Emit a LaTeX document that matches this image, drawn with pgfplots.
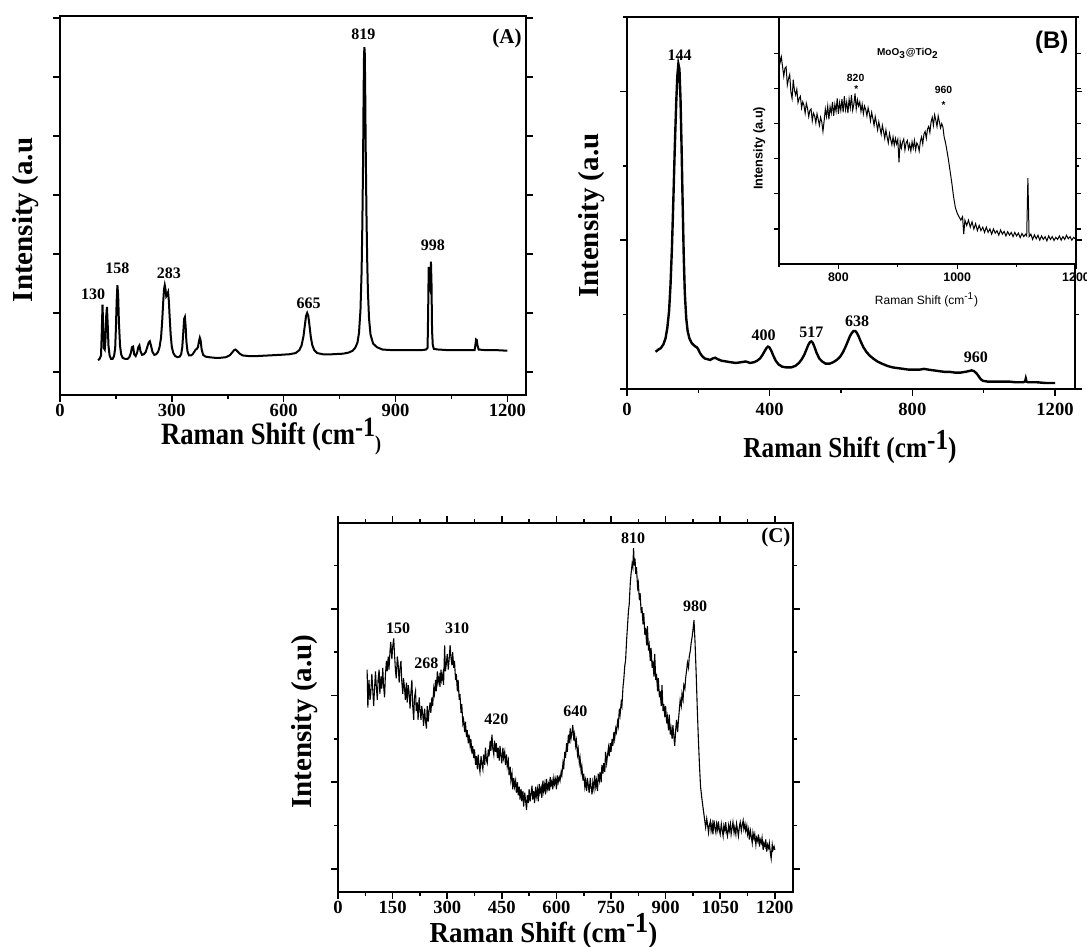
\documentclass[border=0pt]{standalone}
\usepackage{fontspec}
\setmainfont{Liberation Serif}
\newfontfamily\arialfont{Liberation Sans}
\usepackage{pgfplots}
\pgfplotsset{compat=1.18}

\pgfplotsset{
  raman/.style={
    scale only axis, anchor=south west, clip=false,
    axis line style={line width=1pt},
    tick align=outside, major tick length=3.5pt, minor tick length=2pt,
    tick style={black, line width=0.8pt},
    ticklabel style={font=\bfseries\fontsize{9.3}{10}\selectfont, inner sep=1pt},
    /pgf/number format/assume math mode=true,
    /pgf/number format/1000 sep={},
    yticklabels={},
  },
}
\tikzset{
  peak/.style={font=\bfseries\fontsize{8}{9}\selectfont, anchor=base, inner sep=0pt},
  axlab/.style={font=\bfseries\fontsize{14.5}{15}\selectfont, inner sep=0pt},
}

\begin{document}
\begin{tikzpicture}
\path[use as bounding box] (0,0) rectangle (543.5pt,473.5pt);

% ---------------- (A)
\begin{axis}[raman, at={(30pt,276pt)}, width=233pt, height=189.5pt,
  xmin=0, xmax=1250, ymin=-0.39, ymax=6.03,
  xtick={0,300,...,1200}, minor xtick={150,450,750,1050},
  ytick={0,...,6}, xtick pos=left, ytick pos=both]
\addplot[black, line width=1pt] coordinates {
(102,0.20) (106,0.22) (110,0.28) (112,0.65) (114,1.14) (116,0.75) (118,0.40)
(120,0.38) (122,0.55) (124,0.95) (126,1.10) (128,0.80) (130,0.45) (133,0.28)
(137,0.22) (141,0.22) (145,0.27) (148,0.40) (150,0.75) (152,1.20) (154,1.47)
(156,1.30) (158,0.85) (161,0.45) (164,0.30) (168,0.24) (175,0.22) (181,0.22)
(186,0.25) (190,0.32) (193,0.42) (196,0.43) (199,0.30) (203,0.27) (207,0.33)
(210,0.42) (213,0.45) (216,0.35) (220,0.29) (225,0.30) (230,0.34) (234,0.42)
(238,0.50) (241,0.52) (244,0.45) (248,0.34) (253,0.29) (258,0.30) (263,0.34)
(267,0.42) (271,0.58) (274,0.85) (277,1.20) (279,1.40) (281,1.47) (283,1.40)
(285,1.28) (287,1.30) (290,1.35) (292,1.20) (294,0.95) (297,0.62) (300,0.42)
(304,0.32) (309,0.27) (315,0.25) (321,0.26) (325,0.30) (328,0.42) (331,0.70)
(333,0.90) (335,0.93) (337,0.78) (339,0.52) (342,0.35) (346,0.28) (351,0.28)
(356,0.30) (361,0.35) (364,0.38) (367,0.39) (370,0.42) (373,0.53) (375,0.58)
(377,0.54) (380,0.38) (384,0.29) (390,0.26) (400,0.25) (415,0.24) (430,0.24)
(445,0.25) (455,0.28) (462,0.33) (467,0.37) (471,0.38) (476,0.35) (482,0.31)
(490,0.28) (505,0.27) (530,0.27) (560,0.28) (590,0.29) (615,0.30) (632,0.32)
(642,0.37) (648,0.45) (653,0.60) (657,0.80) (660,0.95) (663,1.00) (666,0.95)
(669,0.80) (673,0.58) (677,0.45) (682,0.37) (690,0.32) (705,0.30) (730,0.30)
(760,0.31) (775,0.33) (785,0.36) (792,0.41) (798,0.50) (802,0.66) (806,1.05)
(809,1.70) (811,2.50) (813,3.60) (814.5,4.80) (815.5,5.35) (816.5,5.50)
(817.5,5.40) (818.5,4.90) (820,3.80) (822,2.70) (824,1.90) (826,1.35)
(829,0.90) (833,0.63) (840,0.48) (850,0.42) (865,0.38) (890,0.37) (920,0.37)
(950,0.37) (970,0.37) (982,0.38) (986,0.41) (987.5,1.00) (989,1.78) (990.5,1.50)
(992,1.45) (993.5,1.60) (995,1.87) (996.5,1.50) (998,0.70) (1000,0.45)
(1003,0.39) (1015,0.38) (1040,0.37) (1070,0.37) (1100,0.37) (1112,0.37)
(1114,0.44) (1116,0.55) (1118,0.54) (1120,0.45) (1123,0.38) (1140,0.37)
(1170,0.37) (1200,0.36)
};
\node[peak] at (axis cs:88.6,1.22) {130};
\node[peak] at (axis cs:154,1.66) {158};
\node[peak] at (axis cs:292,1.59) {283};
\node[peak] at (axis cs:667,1.08) {665};
\node[peak] at (axis cs:814,5.63) {819};
\node[peak] at (axis cs:1000,2.05) {998};
\node[font=\bfseries\fontsize{10.5}{11}\selectfont, anchor=base east, inner sep=0pt]
  at (axis cs:1239,5.56) {(A)};
\end{axis}

% ---------------- (B)
\begin{axis}[raman, at={(313.5pt,279pt)}, width=224pt, height=186pt,
  xmin=0, xmax=1256, ymin=0, ymax=5,
  xtick={0,400,800,1200}, minor xtick={200,600,1000},
  ytick={0,2,4}, minor ytick={1,3,5}, xtick pos=left, ytick pos=both,
  xticklabel style={yshift=-2.5pt}]
\addplot[black, line width=1.2pt] coordinates {
(80,0.50) (88,0.53) (95,0.55) (102,0.60) (108,0.68) (113,0.82) (118,1.05)
(122,1.40) (126,1.90) (130,2.55) (134,3.25) (138,3.85) (141,4.20) (144,4.37)
(147,4.30) (150,3.90) (153,3.25) (156,2.50) (159,1.80) (162,1.30) (166,0.95)
(170,0.78) (175,0.68) (181,0.62) (187,0.59) (192,0.57) (196,0.56) (200,0.53)
(205,0.48) (211,0.44) (218,0.41) (226,0.40) (233,0.39) (240,0.41) (247,0.42)
(255,0.40) (265,0.38) (278,0.37) (290,0.36) (305,0.35) (320,0.36) (333,0.37)
(345,0.35) (356,0.36) (365,0.38) (373,0.41) (380,0.46) (386,0.51) (391,0.55)
(395,0.57) (399,0.56) (404,0.52) (410,0.45) (417,0.38) (425,0.33) (435,0.30)
(447,0.29) (460,0.29) (472,0.31) (482,0.35) (490,0.40) (497,0.46) (503,0.53)
(508,0.59) (513,0.63) (517,0.64) (521,0.62) (526,0.56) (532,0.48) (539,0.41)
(547,0.37) (557,0.34) (568,0.34) (578,0.36) (588,0.39) (597,0.43) (605,0.49)
(612,0.56) (619,0.64) (625,0.71) (630,0.75) (635,0.78) (640,0.78) (645,0.75)
(650,0.70) (656,0.63) (663,0.56) (671,0.50) (680,0.45) (690,0.41) (702,0.37)
(715,0.34) (730,0.31) (745,0.29) (760,0.28) (775,0.27) (790,0.26) (805,0.26)
(820,0.26) (833,0.27) (845,0.26) (860,0.25) (875,0.24) (890,0.23) (905,0.23)
(920,0.22) (935,0.22) (948,0.23) (958,0.24) (966,0.25) (973,0.24) (980,0.21)
(986,0.17) (992,0.13) (998,0.11) (1010,0.10) (1030,0.10) (1050,0.10)
(1070,0.10) (1090,0.09) (1110,0.09) (1116,0.10) (1118,0.14) (1120,0.10)
(1124,0.09) (1150,0.09) (1175,0.08) (1200,0.08)
};
\node[peak] at (axis cs:147.5,4.42) {144};
\node[peak] at (axis cs:383,0.65) {400};
\node[peak] at (axis cs:517,0.69) {517};
\node[peak] at (axis cs:645,0.84) {638};
\node[peak] at (axis cs:978,0.36) {960};
\end{axis}

% ---------------- inset of (B)
\begin{axis}[scale only axis, anchor=south west, clip=false,
  at={(389.5pt,341.5pt)}, width=148.5pt, height=123.5pt,
  axis background/.style={fill=white},
  axis line style={line width=0.8pt},
  xmin=700, xmax=1200, ymin=0, ymax=7.04,
  xtick={800,1000,1200}, minor xtick={700,900,1100},
  ytick={1,...,6}, yticklabels={}, xtick pos=left, ytick pos=both,
  tick align=outside, major tick length=2.5pt, minor tick length=1.5pt,
  tick style={black, line width=0.6pt},
  ticklabel style={font=\arialfont\bfseries\fontsize{6.2}{7}\selectfont, inner sep=1.5pt},
  /pgf/number format/assume math mode=true,
  /pgf/number format/1000 sep={}]
\addplot[black, line width=0.5pt] coordinates {
(700,6.05) (702,5.75) (704,5.90) (706,5.62) (708,5.35) (710,5.58) (712,5.62)
(714,5.10) (716,5.28) (718,5.40) (720,4.90) (722,4.72) (724,5.25) (726,4.95)
(728,4.82) (730,4.98) (732,4.60) (734,4.72) (736,4.78) (738,4.45) (740,4.62)
(742,4.52) (744,4.30) (746,4.58) (748,4.44) (750,4.20) (752,4.38) (754,4.42)
(756,4.08) (758,4.30) (760,4.22) (762,4.02) (764,4.28) (766,4.12) (768,3.95)
(770,4.18) (772,4.05) (774,3.78) (776,4.08) (778,4.42) (780,4.20) (782,4.50)
(784,4.12) (786,4.48) (788,4.30) (790,4.62) (792,4.22) (794,4.55) (796,4.35)
(798,4.72) (800,4.28) (802,4.60) (804,4.38) (806,4.70) (808,4.32) (810,4.78)
(812,4.40) (814,4.62) (816,4.30) (818,4.70) (820,4.45) (822,4.82) (824,4.38)
(826,4.55) (828,4.86) (830,4.42) (832,4.68) (834,4.50) (836,4.62) (838,4.35)
(840,4.55) (842,4.28) (844,4.50) (846,4.40) (848,4.22) (850,4.45) (852,4.30)
(854,4.08) (856,4.32) (858,4.15) (860,3.95) (862,4.20) (864,4.02) (866,3.82)
(868,4.05) (870,3.88) (872,3.70) (874,3.95) (876,3.78) (878,3.58) (880,3.82)
(882,3.62) (884,3.45) (886,3.72) (888,3.55) (890,3.40) (892,3.62) (894,3.38)
(896,3.58) (898,3.42) (900,3.55) (902,2.90) (904,3.50) (906,3.30) (908,3.48)
(910,3.56) (912,3.25) (914,3.45) (916,3.52) (918,3.28) (920,3.42) (922,3.22)
(924,3.48) (926,3.30) (928,3.52) (930,3.25) (932,3.45) (934,3.38) (936,3.22)
(938,3.50) (940,3.62) (942,3.42) (944,3.70) (946,3.78) (948,3.58) (950,3.85)
(952,3.92) (954,3.75) (956,4.05) (958,4.18) (960,3.95) (962,4.25) (964,4.10)
(966,3.92) (968,4.22) (970,4.05) (972,3.88) (974,4.00) (976,3.90) (978,3.62)
(980,3.48) (982,3.30) (985,3.00) (988,2.65) (991,2.30) (994,1.90) (997,1.60)
(1000,1.45) (1003,1.35) (1006,1.25) (1009,1.35) (1011,0.85) (1013,1.25)
(1016,1.10) (1019,1.25) (1022,1.05) (1025,1.20) (1028,1.00) (1031,1.15)
(1034,0.95) (1037,1.10) (1040,0.95) (1043,1.05) (1046,0.90) (1049,1.05)
(1052,0.90) (1055,1.00) (1058,0.85) (1061,1.00) (1064,0.88) (1067,0.95)
(1070,0.82) (1073,0.97) (1076,0.85) (1079,0.93) (1082,0.80) (1085,0.92)
(1088,0.82) (1091,0.90) (1094,0.78) (1097,0.90) (1100,0.80) (1103,0.88)
(1106,0.75) (1109,0.87) (1112,0.78) (1115,0.85) (1117,0.80) (1119,2.45)
(1121,0.78) (1124,0.85) (1127,0.70) (1130,0.83) (1133,0.72) (1136,0.82)
(1139,0.68) (1142,0.80) (1145,0.70) (1148,0.78) (1151,0.66) (1154,0.80)
(1157,0.70) (1160,0.78) (1163,0.67) (1166,0.76) (1169,0.70) (1172,0.80)
(1175,0.68) (1178,0.78) (1181,0.70) (1184,0.82) (1187,0.72) (1190,0.78)
(1193,0.68) (1196,0.76) (1200,0.70)
};
\node[font=\arialfont\bfseries\fontsize{5}{6}\selectfont, anchor=base, inner sep=0pt]
  at (axis cs:917,5.95) {MoO\textsubscript{3}@TiO\textsubscript{2}};
\node[font=\arialfont\bfseries\fontsize{5.2}{6}\selectfont, anchor=base, inner sep=0pt]
  at (axis cs:829,5.21) {820};
\node[font=\arialfont\bfseries\fontsize{5}{6}\selectfont, inner sep=0pt]
  at (axis cs:830,4.98) {*};
\node[font=\arialfont\bfseries\fontsize{5.2}{6}\selectfont, anchor=base, inner sep=0pt]
  at (axis cs:977,4.86) {960};
\node[font=\arialfont\bfseries\fontsize{5}{6}\selectfont, inner sep=0pt]
  at (axis cs:977,4.52) {*};
\node[font=\arialfont\bfseries\fontsize{12}{13}\selectfont, anchor=base east, inner sep=0pt]
  at (axis cs:1188,6.15) {(B)};
\end{axis}

% ---------------- (C)
\begin{axis}[raman, at={(169pt,27.5pt)}, width=227.5pt, height=184.5pt,
  xmin=0, xmax=1250, ymin=-0.265, ymax=3.99,
  xtick={0,150,...,1200}, minor xtick={75,225,...,1125},
  ytick={0,1,2,3}, minor ytick={0.5,1.5,2.5,3.5},
  xtick pos=both, ytick pos=both, axis line style={line width=0.85pt},
  xticklabel pos=lower]
\addplot[black, line width=0.55pt] coordinates {
(80,2.30) (82,1.86) (85,2.18) (88,1.95) (90,2.02) (93,2.25) (95,2.10) (98,1.88)
(100,2.05) (103,2.28) (105,2.12) (108,1.95) (110,2.18) (113,2.30) (115,2.02)
(118,2.22) (120,2.08) (123,2.32) (125,2.12) (128,1.98) (130,2.22) (133,2.40)
(135,2.28) (138,2.45) (140,2.30) (143,2.52) (145,2.62) (148,2.42) (150,2.55)
(153,2.66) (155,2.50) (158,2.28) (160,2.20) (163,2.45) (165,2.38) (168,2.15)
(170,2.30) (173,2.40) (175,2.18) (178,2.02) (180,2.20) (183,2.08) (185,1.95)
(188,2.15) (190,1.92) (193,2.12) (195,2.05) (198,1.85) (200,2.02) (203,2.18)
(205,1.90) (208,1.72) (210,1.98) (213,2.05) (215,1.82) (218,1.92) (220,1.72)
(223,1.98) (225,1.85) (228,1.72) (230,1.88) (233,1.78) (235,1.65) (238,1.85)
(240,1.72) (243,1.62) (245,1.88) (248,1.70) (250,1.82) (253,1.92) (255,1.80)
(258,1.98) (260,1.88) (263,2.08) (265,2.02) (268,2.18) (270,2.05) (273,2.28)
(275,2.15) (278,2.22) (280,2.10) (283,2.30) (285,2.18) (288,2.25) (290,2.12)
(293,2.58) (295,2.28) (298,2.38) (300,2.48) (303,2.30) (305,2.40) (308,2.58)
(310,2.45) (313,2.35) (315,2.50) (318,2.32) (320,2.40) (323,2.18) (325,2.25)
(328,2.05) (330,2.18) (333,1.95) (335,2.02) (338,1.80) (340,1.90) (343,1.68)
(345,1.72) (348,1.58) (350,1.70) (353,1.52) (355,1.60) (358,1.45) (360,1.55)
(363,1.42) (365,1.50) (368,1.33) (370,1.42) (373,1.28) (375,1.38) (378,1.20)
(380,1.30) (383,1.15) (385,1.32) (388,1.18) (390,1.12) (393,1.30) (395,1.22)
(398,1.15) (400,1.32) (403,1.20) (405,1.40) (408,1.25) (410,1.22) (413,1.38)
(415,1.30) (418,1.48) (420,1.36) (423,1.55) (425,1.40) (428,1.32) (430,1.48)
(433,1.35) (435,1.45) (438,1.28) (440,1.40) (443,1.25) (445,1.42) (448,1.30)
(450,1.22) (453,1.40) (455,1.28) (458,1.35) (460,1.20) (463,1.32) (465,1.18)
(468,1.25) (470,1.08) (473,1.18) (475,1.02) (478,1.10) (480,0.92) (483,1.05)
(485,0.95) (488,1.02) (490,0.88) (493,1.00) (495,0.85) (498,0.95) (500,0.80)
(503,0.92) (505,0.78) (508,0.90) (510,0.72) (513,0.88) (515,0.80) (518,0.68)
(520,0.85) (523,0.76) (525,0.92) (528,0.78) (530,0.86) (533,0.96) (535,0.80)
(538,0.90) (540,0.76) (543,0.95) (545,0.84) (548,0.92) (550,0.78) (553,0.98)
(555,0.88) (558,0.94) (560,0.82) (563,1.02) (565,0.90) (568,0.98) (570,0.86)
(573,1.04) (575,0.92) (578,0.98) (580,0.90) (583,1.06) (585,0.96) (588,1.02)
(590,0.92) (593,1.05) (595,0.98) (598,1.04) (600,0.92) (603,1.08) (605,1.00)
(608,1.06) (610,1.02) (613,1.12) (615,1.08) (618,1.22) (620,1.15) (623,1.35)
(625,1.28) (628,1.45) (630,1.35) (633,1.55) (635,1.45) (638,1.62) (640,1.50)
(643,1.58) (645,1.66) (648,1.48) (650,1.55) (653,1.42) (655,1.48) (658,1.32)
(660,1.38) (663,1.22) (665,1.28) (668,1.12) (670,1.18) (673,1.02) (675,1.10)
(678,0.95) (680,1.02) (683,0.90) (685,1.05) (688,0.95) (690,0.88) (693,1.05)
(695,0.95) (698,0.86) (700,1.00) (703,0.92) (705,1.08) (708,0.95) (710,1.02)
(713,0.90) (715,1.10) (718,1.02) (720,1.12) (723,1.00) (725,1.20) (728,1.10)
(730,1.22) (733,1.12) (735,1.35) (738,1.22) (740,1.30) (743,1.40) (745,1.30)
(748,1.45) (750,1.35) (753,1.50) (755,1.42) (758,1.58) (760,1.50) (763,1.62)
(765,1.58) (768,1.70) (770,1.65) (773,1.85) (775,1.78) (778,1.92) (780,1.88)
(783,2.10) (785,2.18) (788,2.35) (790,2.40) (793,2.65) (795,2.78) (798,2.98)
(800,3.05) (803,3.30) (805,3.40) (808,3.52) (810,3.48) (812,3.70) (814,3.50)
(816,3.58) (818,3.40) (820,3.48) (823,3.25) (825,3.30) (828,3.10) (830,3.18)
(833,2.95) (835,3.02) (838,2.82) (840,2.95) (843,2.70) (845,2.78) (848,2.58)
(850,2.80) (853,2.52) (855,2.58) (858,2.40) (860,2.55) (863,2.32) (865,2.40)
(868,2.22) (870,2.48) (873,2.18) (875,2.25) (878,2.05) (880,2.20) (883,1.98)
(885,2.05) (888,1.88) (890,2.12) (893,1.82) (895,1.90) (898,1.75) (900,1.88)
(903,1.68) (905,1.75) (908,1.60) (910,1.78) (913,1.55) (915,1.62) (918,1.50)
(920,1.66) (923,1.52) (925,1.42) (928,1.62) (930,1.72) (933,1.58) (935,1.70)
(938,1.85) (940,1.95) (943,1.88) (945,2.02) (948,1.95) (950,2.12) (953,2.08)
(955,2.20) (958,2.30) (960,2.38) (963,2.32) (965,2.45) (968,2.52) (970,2.60)
(973,2.68) (975,2.75) (978,2.87) (981,2.60) (984,2.25) (987,1.85) (990,1.50)
(993,1.20) (996,0.95) (1000,0.80) (1005,0.64) (1010,0.48) (1013,0.58)
(1015,0.52) (1018,0.42) (1020,0.50) (1023,0.55) (1025,0.44) (1028,0.52)
(1030,0.40) (1033,0.56) (1035,0.48) (1038,0.42) (1040,0.52) (1043,0.45)
(1045,0.55) (1048,0.44) (1050,0.40) (1053,0.52) (1055,0.46) (1058,0.38)
(1060,0.50) (1063,0.44) (1065,0.54) (1068,0.42) (1070,0.38) (1073,0.50)
(1075,0.44) (1078,0.52) (1080,0.40) (1083,0.48) (1085,0.54) (1088,0.42)
(1090,0.48) (1093,0.40) (1095,0.52) (1098,0.44) (1100,0.38) (1103,0.50)
(1105,0.54) (1108,0.44) (1110,0.50) (1113,0.56) (1115,0.46) (1118,0.52)
(1120,0.44) (1123,0.50) (1125,0.40) (1128,0.46) (1130,0.34) (1133,0.44)
(1135,0.38) (1138,0.30) (1140,0.42) (1143,0.35) (1145,0.40) (1148,0.28)
(1150,0.36) (1153,0.32) (1155,0.40) (1158,0.26) (1160,0.34) (1163,0.30)
(1165,0.36) (1168,0.22) (1170,0.30) (1173,0.26) (1175,0.34) (1178,0.20)
(1180,0.28) (1183,0.24) (1185,0.30) (1188,0.18) (1190,0.12) (1193,0.28)
(1195,0.22) (1198,0.26) (1200,0.22)
};
\node[peak] at (axis cs:165,2.71) {150};
\node[peak] at (axis cs:243,2.31) {268};
\node[peak] at (axis cs:327,2.71) {310};
\node[peak] at (axis cs:435,1.67) {420};
\node[peak] at (axis cs:652,1.76) {640};
\node[peak] at (axis cs:811,3.75) {810};
\node[peak] at (axis cs:981,2.97) {980};
\node[font=\bfseries\fontsize{10.5}{11}\selectfont, anchor=base east, inner sep=0pt]
  at (axis cs:1244,3.76) {(C)};
\end{axis}

% ---------------- axis titles
\node[font=\bfseries\fontsize{15.5}{16}\selectfont, inner sep=0pt, anchor=base, xscale=0.86]
  at (135.6pt,251pt)
  {Raman Shift (cm\raisebox{4pt}{\fontsize{14}{14}\selectfont -1}%
   \raisebox{-3pt}{\fontsize{10.5}{11}\selectfont )}};
\node[axlab, anchor=base, rotate=90] at (16.1pt,363.5pt) {Intensity (a.u};

\node[axlab, anchor=base, xscale=0.87] at (425pt,244.5pt)
  {Raman Shift (cm\raisebox{4pt}{-1})};
\node[axlab, anchor=base, rotate=90] at (299.3pt,365.6pt) {Intensity (a.u};

\node[font=\arialfont\fontsize{6}{7}\selectfont, anchor=base, inner sep=0pt]
  at (463.3pt,321pt) {Raman Shift (cm\textsuperscript{-1})};
\node[font=\arialfont\bfseries\fontsize{6.4}{7}\selectfont, anchor=base, rotate=90, inner sep=0pt]
  at (381.3pt,399.3pt) {Intensity (a.u)};

\node[axlab, anchor=base, xscale=0.93] at (271.8pt,2pt)
  {Raman Shift (cm\raisebox{5pt}{-1})};
\node[axlab, anchor=base, rotate=90] at (155.8pt,112.7pt) {Intensity (a.u)};
\end{tikzpicture}
\end{document}
